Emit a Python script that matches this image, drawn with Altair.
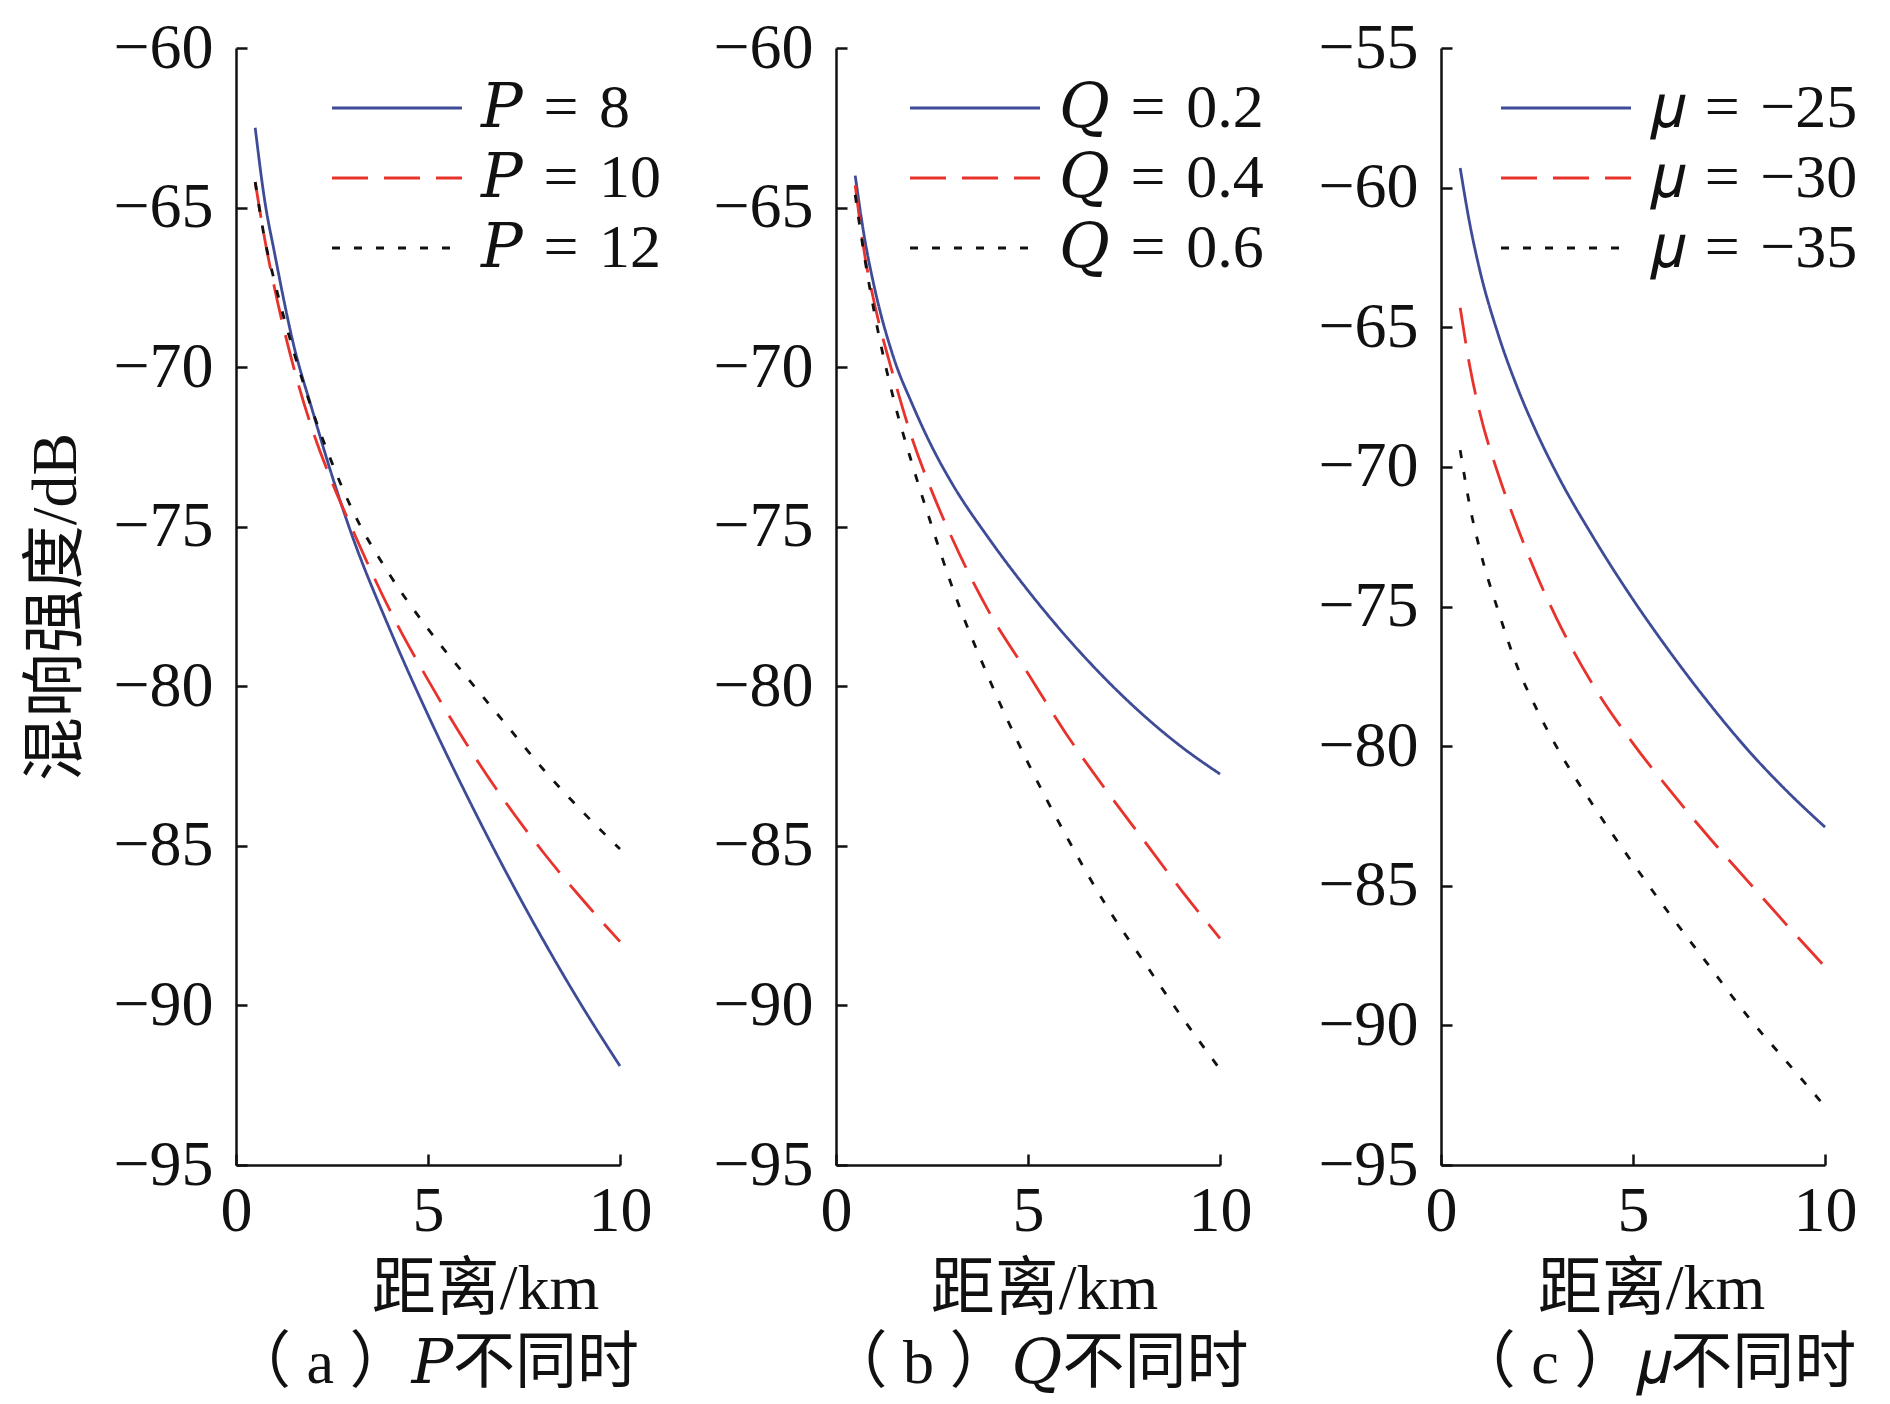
import altair as alt
import pandas as pd

# ---------------- data ----------------
x_km = [0.5, 0.75, 1, 1.5, 2, 2.5, 3, 4, 5, 6, 7, 8, 9, 10]

SP = "\u2004"
a_labels = [f"𝑃{SP}={SP}8", f"𝑃{SP}={SP}10", f"𝑃{SP}={SP}12"]
a_p8 = [-62.5, -64.8, -66.4, -69.3, -71.4, -73.4, -75.2, -78.2, -80.9, -83.4, -85.75, -87.95, -90.0, -91.9]
a_p10 = [-64.2, -66.0, -67.5, -70.0, -72.0, -73.6, -75.0, -77.6, -79.8, -81.8, -83.6, -85.2, -86.65, -88.0]
a_p12 = [-64.2, -66.0, -67.3, -69.5, -71.4, -73.0, -74.4, -76.5, -78.2, -79.7, -81.15, -82.6, -83.9, -85.1]

b_labels = [f"𝑄{SP}={SP}0.2", f"𝑄{SP}={SP}0.4", f"𝑄{SP}={SP}0.6"]
b_q02 = [-64.0, -66.0, -67.5, -69.7, -71.2, -72.5, -73.6, -75.4, -77.0, -78.45, -79.75, -80.9, -81.9, -82.75]
b_q04 = [-64.3, -66.5, -68.0, -70.3, -72.3, -73.9, -75.3, -77.7, -79.6, -81.5, -83.2, -84.8, -86.4, -87.9]
b_q06 = [-64.6, -66.6, -68.3, -71.0, -73.1, -75.0, -76.8, -79.8, -82.4, -84.7, -86.8, -88.6, -90.35, -92.0]

c_labels = [f"𝜇{SP}={SP}−25", f"𝜇{SP}={SP}−30", f"𝜇{SP}={SP}−35"]
c_m25 = [-59.3, -61.3, -62.9, -65.3, -67.2, -68.8, -70.2, -72.6, -74.75, -76.7, -78.5, -80.15, -81.6, -82.9]
c_m30 = [-64.3, -66.4, -68.0, -70.3, -72.2, -73.9, -75.4, -77.9, -79.9, -81.65, -83.3, -84.85, -86.4, -87.9]
c_m35 = [-69.4, -71.4, -72.9, -75.2, -77.2, -78.7, -80.0, -82.2, -84.2, -86.1, -87.9, -89.7, -91.3, -92.9]

x_ticks = [0, 5, 10]
y_ticks_ab = [-95, -90, -85, -80, -75, -70, -65, -60]
y_ticks_c = [-95, -90, -85, -80, -75, -70, -65, -60, -55]

x_title = "距离/km"
y_title = "混响强度/dB"
subtitles = ["（ a ）𝑃不同时", "（ b ）𝑄不同时", "（ c ）𝜇不同时"]

# ---------------- styling ----------------
colors = ["#3e4b97", "#e8322c", "#111111"]
dashes = [[1, 0], [36, 16], [8, 14]]
FONT = "Liberation Serif, DejaVu Serif, Noto Sans CJK SC"
INK = "#111111"
W, H = 384, 1117


def make_panel(labels, series, y_domain, y_ticks, subtitle, ytitle, legend_x, title_x, sub_dx):
    rows = []
    for lab, vals in zip(labels, series):
        for xv, yv in zip(x_km, vals):
            rows.append({"km": xv, "db": yv, "series": lab})
    df = pd.DataFrame(rows)

    legend = alt.Legend(
        orient="none", legendX=legend_x, legendY=29, title=None,
        symbolType="M-4,0H4", symbolSize=1056, symbolStrokeWidth=2.8,
        labelFont=FONT, labelFontSize=62, labelColor=INK, labelOffset=53,
        labelLimit=500, rowPadding=8, padding=0,
    )
    x_axis = alt.Axis(
        values=x_ticks, format="d", grid=False, labelFlush=False, labelOverlap=False,
        domainColor=INK, domainWidth=2.5, tickColor=INK, tickWidth=2.5,
        tickSize={"expr": "-11"}, labelPadding=25,
        labelFont=FONT, labelFontSize=64, labelColor=INK,
        title=x_title, titleFont=FONT, titleFontSize=64, titleFontWeight="normal",
        titleColor=INK, titlePadding=14, titleX=title_x,
    )
    y_kwargs = dict(
        values=y_ticks, format="d", grid=False, labelFlush=False, labelOverlap=False,
        domainColor=INK, domainWidth=2.5, tickColor=INK, tickWidth=2.5,
        tickSize={"expr": "-11"}, labelPadding=34,
        labelFont=FONT, labelFontSize=64, labelColor=INK,
    )
    if ytitle:
        y_axis = alt.Axis(title=ytitle, titleFont=FONT, titleFontSize=64,
                          titleFontWeight="normal", titleColor=INK, titlePadding=24, **y_kwargs)
    else:
        y_axis = alt.Axis(title=None, **y_kwargs)

    return alt.Chart(df).mark_line(strokeWidth=2.8, interpolate="monotone").encode(
        x=alt.X("km:Q", scale=alt.Scale(domain=[0, 10], nice=False, zero=False), axis=x_axis),
        y=alt.Y("db:Q", scale=alt.Scale(domain=y_domain, nice=False, zero=False), axis=y_axis),
        color=alt.Color("series:N", scale=alt.Scale(domain=labels, range=colors), legend=legend),
        strokeDash=alt.StrokeDash("series:N", scale=alt.Scale(domain=labels, range=dashes), legend=legend),
    ).properties(
        width=W, height=H,
        title=alt.TitleParams(subtitle, orient="bottom", font=FONT, fontSize=62,
                              fontWeight="normal", color=INK, offset=13, dx=sub_dx),
    )


pa = make_panel(a_labels, [a_p8, a_p10, a_p12], [-95, -60], y_ticks_ab, subtitles[0], y_title, 130, 249, 6)
pb = make_panel(b_labels, [b_q02, b_q04, b_q06], [-95, -60], y_ticks_ab, subtitles[1], None, 108, 208, 9)
pc = make_panel(c_labels, [c_m25, c_m30, c_m35], [-95, -55], y_ticks_c, subtitles[2], None, 94, 210, 22)

RES = dict(x="independent", y="independent", color="independent", strokeDash="independent")
right_pair = alt.hconcat(pb, pc, spacing=221, bounds="flush").resolve_scale(**RES)
chart = alt.hconcat(pa, right_pair, spacing=216, bounds="flush").resolve_scale(**RES).configure_view(
    stroke=None
).properties(
    padding={"left": 16, "top": 8, "right": 5, "bottom": 5}, background="white"
)

chart.save("out.html", embed_options={"renderer": "svg", "actions": False})
